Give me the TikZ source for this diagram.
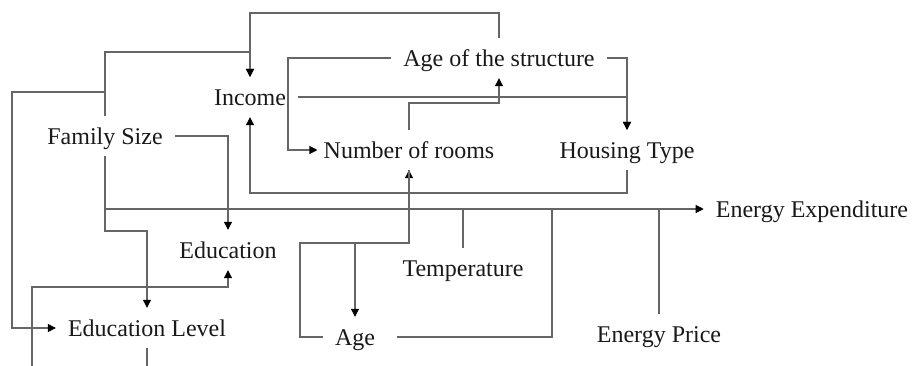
\documentclass[tikz,border=0pt]{standalone}
\usepackage{fontspec}
\setmainfont{Liberation Serif}
\usetikzlibrary{arrows.meta}
\begin{document}
\begin{tikzpicture}[x=1pt,y=-1pt,
  lbl/.style={font=\fontsize{24}{28}\selectfont, text=black!90, text height=16pt, text depth=0pt, inner xsep=12pt, inner ysep=12pt},
  conn/.style={draw=black!60, line width=1.1pt},
  arr/.style={conn, -{Triangle[length=8pt,width=8pt,color=black]}}]
\useasboundingbox (0,0) rectangle (914,365);

% nodes
\node[lbl] (inc) at (250,97) {Income};
\node[lbl] (fam) at (105,136) {Family Size};
\node[lbl] (aos) at (499,58) {Age of the structure};
\node[lbl, inner xsep=6pt] (nor) at (409,150) {Number of rooms};
\node[lbl] (ht) at (627,150) {Housing Type};
\node[lbl] (edu) at (228,250) {Education};
\node[lbl] (edl) at (147,328) {Education Level};
\node[lbl] (tmp) at (463,268) {Temperature};
\node[lbl] (age) at (355,337) {Age};
\node[lbl] (ep) at (659,334) {Energy Price};
\node[lbl] (ee) at (812,209) {Energy Expenditure};

% helper coordinates
\coordinate (ctop) at (500,13);
\coordinate (c52) at (105,52);
\coordinate (c92) at (12,92);
\coordinate (c231) at (105,231);
\coordinate (c193) at (250,193);
\coordinate (c103) at (409,103);
\coordinate (cL) at (288,150);
\coordinate (cA) at (300,243);
\coordinate (cB) at (552,209);
\coordinate (bot1) at (147,370);
\coordinate (bot2) at (32,370);
\coordinate (c287) at (32,287);

% connectors
\draw[arr] (aos.north) -- (aos.north |- ctop) -| (inc.north);
\draw[arr] (fam.north) -- (c52) -| (inc.north);
\draw[arr] (fam.north |- c92) -- (c92) |- (edl.west);
\draw[arr] (fam.south) -- (c231) -| (edl.north);
\draw[arr] (fam.south) |- (ee.west);
\draw[arr] (fam.east) -| (edu.north);
\draw[arr] (ht.south) |- (c193) -| (inc.south);
\draw[arr] (inc.east) -| (ht.north);
\draw[arr] (aos.east) -| (ht.north);
\draw[arr] (aos.west) -| (cL) -- (nor.west);
\draw[arr] (nor.north) -- (c103) -| (aos.south);
\draw[arr] (age.west) -| (cA) -| (nor.south);
\draw[arr] (nor.south) -- (nor.south |- cA) -| (age.north);
\draw[conn] ([xshift=10pt]age.east) -| (cB);
\draw[conn] (tmp.north) -- (tmp.north |- ee.west);
\draw[conn] (ep.north) -- (ep.north |- ee.west);
\draw[conn] (edl.south) -- (bot1);
\draw[arr] (bot2) -- (c287) -| (edu.south);
\end{tikzpicture}
\end{document}
